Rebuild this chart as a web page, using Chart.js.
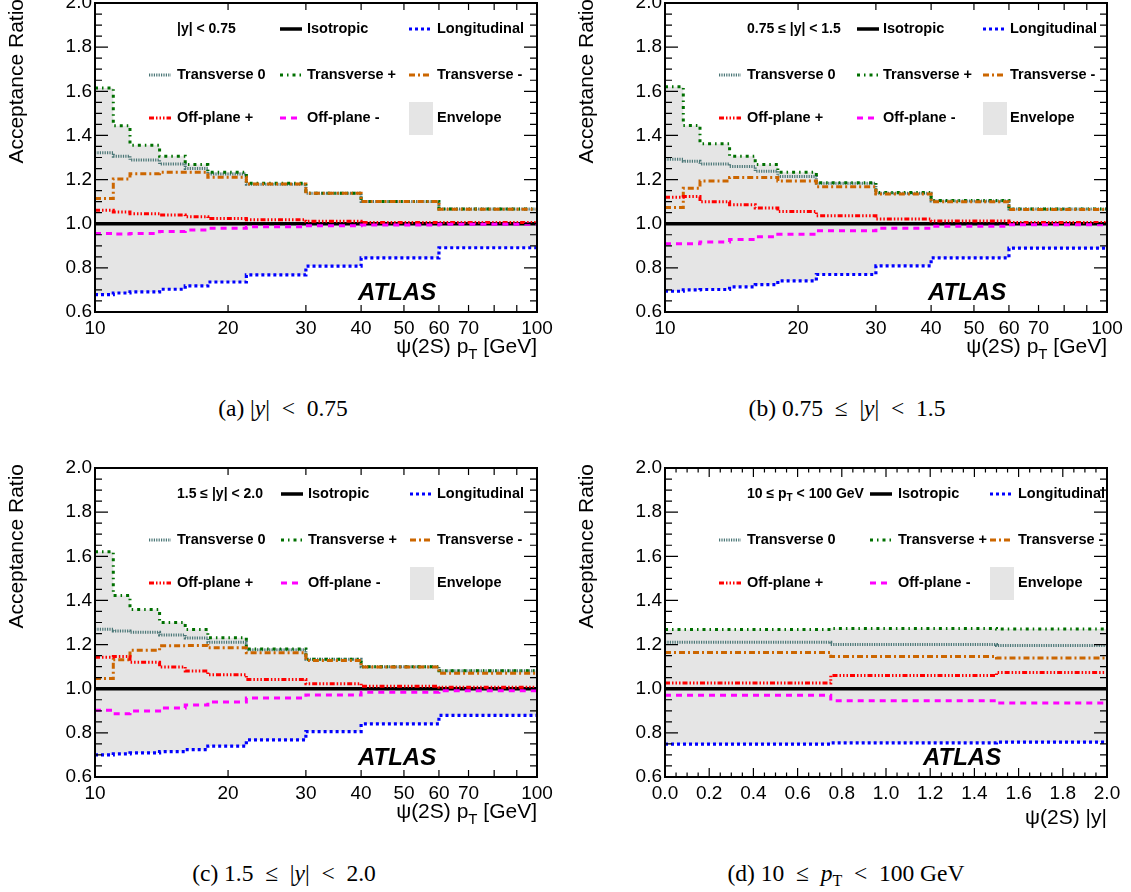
<!DOCTYPE html>
<html><head><meta charset="utf-8">
<script src="https://cdn.jsdelivr.net/npm/chart.js@4.4.1/dist/chart.umd.min.js"></script>
<style>
html,body{margin:0;padding:0;background:#fff;}
body{width:1131px;height:892px;overflow:hidden;position:relative;font-family:"Liberation Sans",Arial,sans-serif;}
.pan{position:absolute;}
.pan canvas{display:block;}
.cap{position:absolute;font-family:"Liberation Serif","Times New Roman",serif;font-size:23.5px;transform:translate(-50%,-50%);white-space:nowrap;color:#000;}
.cap i{font-style:italic;}
.cap sub{font-size:16px;vertical-align:-5px;line-height:0;}
</style></head><body>
<div class="pan" style="left:0;top:0;width:565px;height:365px"><canvas id="ca"></canvas></div>
<div class="pan" style="left:570px;top:0;width:561px;height:365px"><canvas id="cb"></canvas></div>
<div class="pan" style="left:0;top:440px;width:565px;height:390px"><canvas id="cc"></canvas></div>
<div class="pan" style="left:570px;top:440px;width:561px;height:390px"><canvas id="cd"></canvas></div>
<div class="cap" style="left:283px;top:408px">(a) |<i>y</i>|&ensp;&lt;&ensp;0.75</div>
<div class="cap" style="left:847px;top:408px">(b) 0.75&ensp;≤&ensp;|<i>y</i>|&ensp;&lt;&ensp;1.5</div>
<div class="cap" style="left:284px;top:873px">(c) 1.5&ensp;≤&ensp;|<i>y</i>|&ensp;&lt;&ensp;2.0</div>
<div class="cap" style="left:846px;top:873px">(d) 10&ensp;≤&ensp;<i>p</i><sub>T</sub>&ensp;&lt;&ensp;100 GeV</div>
<script>
// ---------------- DATA ----------------
const ptEdges = [10, 11, 12, 14, 16, 18, 22, 30, 40, 60, 100];
const absYEdges = [0, 0.75, 1.5, 2.0];
const seriesNames = ['Isotropic', 'Longitudinal', 'Transverse 0', 'Transverse +', 'Transverse -', 'Off-plane +', 'Off-plane -'];
const ratioTicks = [0.6, 0.8, 1.0, 1.2, 1.4, 1.6, 1.8, 2.0];
const ptTickLabels = [10, 20, 30, 40, 50, 60, 70, 100];
const ptTickMarks = [20, 30, 40, 50, 60, 70, 80, 90];
const absYTickLabels = [0.0, 0.2, 0.4, 0.6, 0.8, 1.0, 1.2, 1.4, 1.6, 1.8, 2.0];

// (a) |y| < 0.75
const aIsotropic      = [1, 1, 1, 1, 1, 1, 1, 1, 1, 1];
const aLongitudinal   = [0.679, 0.686, 0.691, 0.703, 0.718, 0.736, 0.768, 0.808, 0.845, 0.891];
const aTransverse0    = [1.321, 1.306, 1.289, 1.271, 1.250, 1.225, 1.179, 1.138, 1.101, 1.067];
const aTransversePlus = [1.615, 1.444, 1.356, 1.306, 1.268, 1.233, 1.183, 1.138, 1.101, 1.067];
const aTransverseMinus= [1.114, 1.203, 1.226, 1.233, 1.233, 1.210, 1.180, 1.138, 1.101, 1.065];
const aOffPlanePlus   = [1.061, 1.053, 1.045, 1.039, 1.032, 1.024, 1.018, 1.011, 1.005, 1.005];
const aOffPlaneMinus  = [0.956, 0.953, 0.956, 0.965, 0.971, 0.979, 0.986, 0.991, 0.994, 0.998];

// (b) 0.75 <= |y| < 1.5
const bIsotropic      = [1, 1, 1, 1, 1, 1, 1, 1, 1, 1];
const bLongitudinal   = [0.694, 0.700, 0.702, 0.714, 0.724, 0.741, 0.770, 0.809, 0.845, 0.889];
const bTransverse0    = [1.292, 1.283, 1.271, 1.259, 1.238, 1.214, 1.183, 1.138, 1.103, 1.067];
const bTransversePlus = [1.620, 1.445, 1.362, 1.306, 1.268, 1.233, 1.186, 1.141, 1.105, 1.067];
const bTransverseMinus= [1.074, 1.161, 1.194, 1.209, 1.209, 1.194, 1.168, 1.135, 1.100, 1.064];
const bOffPlanePlus   = [1.120, 1.123, 1.100, 1.086, 1.071, 1.055, 1.036, 1.021, 1.012, 1.006];
const bOffPlaneMinus  = [0.909, 0.909, 0.917, 0.929, 0.941, 0.952, 0.968, 0.980, 0.989, 0.995];

// (c) 1.5 <= |y| < 2.0
const cIsotropic      = [1, 1, 1, 1, 1, 1, 1, 1, 1, 1];
const cLongitudinal   = [0.700, 0.705, 0.709, 0.715, 0.724, 0.740, 0.768, 0.806, 0.841, 0.879];
const cTransverse0    = [1.269, 1.262, 1.256, 1.243, 1.230, 1.210, 1.177, 1.133, 1.100, 1.081];
const cTransversePlus = [1.621, 1.422, 1.359, 1.300, 1.268, 1.231, 1.180, 1.133, 1.099, 1.081];
const cTransverseMinus= [1.046, 1.131, 1.174, 1.195, 1.196, 1.186, 1.163, 1.128, 1.098, 1.070];
const cOffPlanePlus   = [1.143, 1.146, 1.120, 1.098, 1.080, 1.063, 1.042, 1.023, 1.011, 1.007];
const cOffPlaneMinus  = [0.902, 0.887, 0.899, 0.913, 0.926, 0.940, 0.958, 0.972, 0.984, 0.991];

// (d) 10 <= pT < 100 GeV, vs |y|
const dIsotropic      = [1, 1, 1];
const dLongitudinal   = [0.749, 0.755, 0.758];
const dTransverse0    = [1.210, 1.200, 1.196];
const dTransversePlus = [1.268, 1.273, 1.270];
const dTransverseMinus= [1.164, 1.146, 1.139];
const dOffPlanePlus   = [1.026, 1.060, 1.073];
const dOffPlaneMinus  = [0.970, 0.946, 0.935];

// ---------------- STYLE ----------------
const styles = {
  'Isotropic':    {color: '#000000', width: 3.5, dash: []},
  'Longitudinal': {color: '#0000ff', width: 3.2, dash: [3, 3]},
  'Transverse 0': {color: '#4a7676', width: 3,   dash: [1.2, 1.2]},
  'Transverse +': {color: '#007000', width: 3,   dash: [3, 4, 1.5, 4]},
  'Transverse -': {color: '#cc6600', width: 3,   dash: [6, 3, 2, 3]},
  'Off-plane +':  {color: '#ff0000', width: 3,   dash: [5, 2, 1.5, 2, 1.5, 2, 1.5, 2]},
  'Off-plane -':  {color: '#ff00ff', width: 3,   dash: [6, 5]}
};
const envColor = '#e5e5e5';
const FONT = '"Liberation Sans", Arial, Helvetica, sans-serif';

function stepPoints(edges, vals) {
  const pts = vals.map((v, i) => ({x: edges[i], y: v}));
  pts.push({x: edges[edges.length - 1], y: vals[vals.length - 1]});
  return pts;
}

function drawRich(ctx, parts, x, y, align, size, bold) {
  const w = bold ? 'bold ' : '';
  const main = w + size + 'px ' + FONT;
  const sub = w + Math.round(size * 0.7) + 'px ' + FONT;
  let total = 0;
  parts.forEach(p => { ctx.font = p.sub ? sub : main; total += ctx.measureText(p.t).width; });
  let cx = align === 'right' ? x - total : x;
  ctx.textAlign = 'left';
  parts.forEach(p => {
    ctx.font = p.sub ? sub : main;
    ctx.fillText(p.t, cx, p.sub ? y + size * 0.3 : y);
    cx += ctx.measureText(p.t).width;
  });
}

function makePlugin(cfg) {
  return {
    id: 'rootStyle',
    afterDraw(chart) {
      const ctx = chart.ctx, a = chart.chartArea, xs = chart.scales.x, ys = chart.scales.y;
      const dsets = chart.data.datasets;
      ctx.save();
      ctx.fillStyle = '#000';
      // ---- legend ----
      const rows = [26, 72, 115];
      const cells = [
        [{header: cfg.header}, {name: 'Isotropic'}, {name: 'Longitudinal'}],
        [{name: 'Transverse 0'}, {name: 'Transverse +'}, {name: 'Transverse -'}],
        [{name: 'Off-plane +'}, {name: 'Off-plane -'}, {env: true}]
      ];
      ctx.textBaseline = 'middle';
      cells.forEach((row, r) => row.forEach((cell, c) => {
        const ry = a.top + rows[r];
        const mx = a.left + cfg.cols[c][0], tx = a.left + cfg.cols[c][1];
        if (cell.header) {
          ctx.fillStyle = '#000';
          drawRich(ctx, cell.header, tx, ry, 'left', 14, true);
          return;
        }
        let label;
        if (cell.env) {
          ctx.fillStyle = envColor;
          ctx.fillRect(mx, ry - 16, 24, 33);
          label = 'Envelope';
        } else {
          const ds = dsets.find(d => d.label === cell.name);
          ctx.save();
          ctx.strokeStyle = ds.borderColor; ctx.lineWidth = ds.borderWidth;
          ctx.setLineDash(ds.borderDash); ctx.lineCap = 'butt';
          ctx.beginPath(); ctx.moveTo(mx, ry); ctx.lineTo(mx + 22, ry); ctx.stroke();
          ctx.restore();
          label = cell.name;
        }
        ctx.fillStyle = '#000';
        ctx.font = 'bold 14.5px ' + FONT; ctx.textAlign = 'left';
        ctx.fillText(label, tx, ry);
      }));
      // ---- ATLAS ----
      ctx.font = 'italic bold 24px ' + FONT;
      ctx.textAlign = 'left'; ctx.textBaseline = 'alphabetic'; ctx.fillStyle = '#000';
      ctx.fillText('ATLAS', a.left + cfg.atlasX, a.top + 297);
      // ---- ticks ----
      ctx.strokeStyle = '#000'; ctx.lineWidth = 1.2; ctx.setLineDash([]);
      ctx.beginPath();
      for (let i = 0; i < ratioTicks.length; i++) {
        const py = ys.getPixelForValue(ratioTicks[i]);
        ctx.moveTo(a.left, py); ctx.lineTo(a.left + 13, py);
        ctx.moveTo(a.right, py); ctx.lineTo(a.right - 13, py);
        if (i < ratioTicks.length - 1) {
          const step = (ratioTicks[i + 1] - ratioTicks[i]) / 4;
          for (let k = 1; k < 4; k++) {
            const qy = ys.getPixelForValue(ratioTicks[i] + k * step);
            ctx.moveTo(a.left, qy); ctx.lineTo(a.left + 7, qy);
            ctx.moveTo(a.right, qy); ctx.lineTo(a.right - 7, qy);
          }
        }
      }
      if (cfg.logX) {
        ptTickMarks.forEach(v => {
          const px = xs.getPixelForValue(v);
          ctx.moveTo(px, a.bottom); ctx.lineTo(px, a.bottom - 7);
          ctx.moveTo(px, a.top); ctx.lineTo(px, a.top + 7);
        });
      } else {
        for (let i = 0; i < absYTickLabels.length; i++) {
          const px = xs.getPixelForValue(absYTickLabels[i]);
          ctx.moveTo(px, a.bottom); ctx.lineTo(px, a.bottom - 9);
          ctx.moveTo(px, a.top); ctx.lineTo(px, a.top + 9);
          if (i < absYTickLabels.length - 1) {
            const step = (absYTickLabels[i + 1] - absYTickLabels[i]) / 4;
            for (let k = 1; k < 4; k++) {
              const qx = xs.getPixelForValue(absYTickLabels[i] + k * step);
              ctx.moveTo(qx, a.bottom); ctx.lineTo(qx, a.bottom - 4.5);
              ctx.moveTo(qx, a.top); ctx.lineTo(qx, a.top + 4.5);
            }
          }
        }
      }
      ctx.stroke();
      // ---- frame ----
      ctx.lineWidth = 2;
      ctx.strokeRect(a.left, a.top, a.right - a.left, a.bottom - a.top);
      // ---- tick labels ----
      ctx.fillStyle = '#000';
      ctx.font = '19px ' + FONT;
      ctx.textAlign = 'right'; ctx.textBaseline = 'middle';
      ratioTicks.forEach(v => ctx.fillText(v.toFixed(1), a.left - 3, ys.getPixelForValue(v)));
      ctx.textAlign = 'center';
      if (cfg.logX) {
        ptTickLabels.forEach(v => ctx.fillText(String(v), xs.getPixelForValue(v), a.bottom + 17));
      } else {
        absYTickLabels.forEach(v => ctx.fillText(v.toFixed(1), xs.getPixelForValue(v), a.bottom + 17));
      }
      // ---- axis titles ----
      ctx.textBaseline = 'alphabetic';
      drawRich(ctx, cfg.xTitle, a.right, a.bottom + cfg.xTitleDy, 'right', 21, false);
      ctx.save();
      ctx.translate(a.left - 78, a.top - 4);
      ctx.rotate(-Math.PI / 2);
      ctx.font = '21px ' + FONT; ctx.textAlign = 'right'; ctx.textBaseline = 'middle';
      ctx.fillText('Acceptance Ratio', 0, 0);
      ctx.restore();
      ctx.restore();
    }
  };
}

function buildPanel(id, edges, seriesVals, cfg) {
  const n = seriesVals[0].length;
  const hi = [], lo = [];
  for (let i = 0; i < n; i++) {
    let mx = -Infinity, mn = Infinity;
    seriesVals.forEach(s => { mx = Math.max(mx, s[i]); mn = Math.min(mn, s[i]); });
    hi.push(mx); lo.push(mn);
  }
  const datasets = [
    {label: 'envLow', data: stepPoints(edges, lo), stepped: 'before', borderWidth: 0, borderColor: 'rgba(0,0,0,0)', pointRadius: 0, fill: false, order: 100},
    {label: 'Envelope', data: stepPoints(edges, hi), stepped: 'before', borderWidth: 0, borderColor: 'rgba(0,0,0,0)', pointRadius: 0, fill: '-1', backgroundColor: envColor, order: 99}
  ];
  seriesNames.forEach((name, k) => {
    const st = styles[name];
    datasets.push({label: name, data: stepPoints(edges, seriesVals[k]), stepped: 'before',
      borderColor: st.color, borderWidth: st.width, borderDash: st.dash, borderCapStyle: 'butt',
      pointRadius: 0, fill: false, order: 90 - k});
  });
  const xScale = cfg.logX
    ? {type: 'logarithmic', min: 10, max: 100}
    : {type: 'linear', min: 0, max: 2};
  Object.assign(xScale, {ticks: {display: false}, grid: {display: false}, border: {display: false},
    afterFit: s => { s.height = cfg.xAxisH; }});
  new Chart(document.getElementById(id), {
    type: 'line',
    data: {datasets},
    options: {
      responsive: true, maintainAspectRatio: false, animation: false,
      layout: {padding: {left: 0, right: cfg.padRight, top: cfg.padTop, bottom: 0}},
      scales: {
        x: xScale,
        y: {type: 'linear', min: 0.6, max: 2.0, ticks: {display: false}, grid: {display: false}, border: {display: false},
          afterFit: s => { s.width = 95; }}
      },
      plugins: {legend: {display: false}, tooltip: {enabled: false}}
    },
    plugins: [makePlugin(cfg)]
  });
}

const ptTitle = [{t: 'ψ(2S) p'}, {t: 'T', sub: true}, {t: ' [GeV]'}];
const yTitle = [{t: 'ψ(2S) |y|'}];

buildPanel('ca', ptEdges, [aIsotropic, aLongitudinal, aTransverse0, aTransversePlus, aTransverseMinus, aOffPlanePlus, aOffPlaneMinus],
  {logX: true, xAxisH: 53, padTop: 3, padRight: 28, header: [{t: '|y| < 0.75'}], cols: [[54, 82], [185, 212], [314, 342]], atlasX: 263, xTitle: ptTitle, xTitleDy: 41});
buildPanel('cb', ptEdges, [bIsotropic, bLongitudinal, bTransverse0, bTransversePlus, bTransverseMinus, bOffPlanePlus, bOffPlaneMinus],
  {logX: true, xAxisH: 53, padTop: 3, padRight: 24, header: [{t: '0.75 ≤ |y| < 1.5'}], cols: [[54, 82], [192, 218], [318, 345]], atlasX: 263, xTitle: ptTitle, xTitleDy: 41});
buildPanel('cc', ptEdges, [cIsotropic, cLongitudinal, cTransverse0, cTransversePlus, cTransverseMinus, cOffPlanePlus, cOffPlaneMinus],
  {logX: true, xAxisH: 53, padTop: 28, padRight: 28, header: [{t: '1.5 ≤ |y| < 2.0'}], cols: [[54, 82], [186, 213], [315, 342]], atlasX: 263, xTitle: ptTitle, xTitleDy: 41});
buildPanel('cd', absYEdges, [dIsotropic, dLongitudinal, dTransverse0, dTransversePlus, dTransverseMinus, dOffPlanePlus, dOffPlaneMinus],
  {logX: false, xAxisH: 53, padTop: 28, padRight: 24, header: [{t: '10 ≤ p'}, {t: 'T', sub: true}, {t: ' < 100 GeV'}], cols: [[54, 82], [205, 233], [325, 353]], atlasX: 258, xTitle: yTitle, xTitleDy: 47});
</script>
</body></html>
